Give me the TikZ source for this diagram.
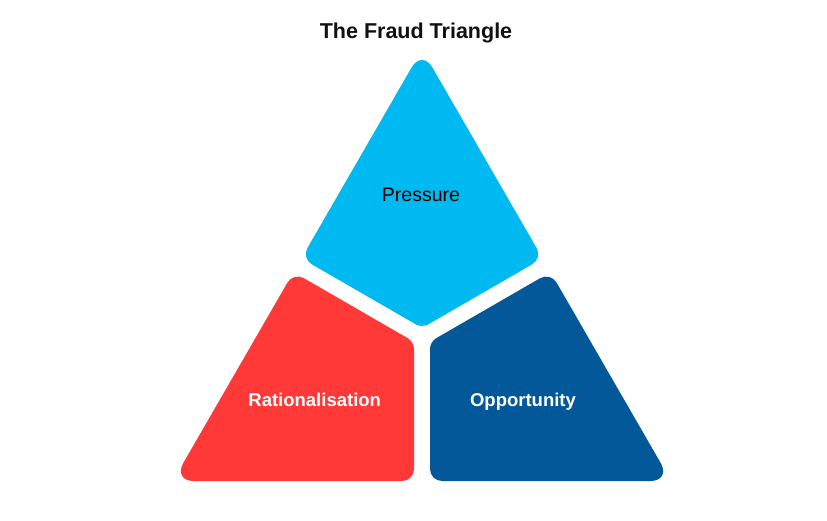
\documentclass[tikz,border=0pt]{standalone}
\usepackage{fontspec}
\setmainfont{Liberation Sans}
\usetikzlibrary{calc}
\definecolor{pressurecol}{RGB}{0,185,241}
\definecolor{rationcol}{RGB}{255,56,56}
\definecolor{opportcol}{RGB}{3,88,153}
\definecolor{titlecol}{RGB}{17,17,17}
\tikzset{
  titletext/.style={anchor=base, text=titlecol, font=\fontsize{21.5}{25}\selectfont\bfseries, inner sep=0pt},
  darklabel/.style={anchor=base, text=black, font=\fontsize{19.5}{23}\selectfont, inner sep=0pt},
  lightlabel/.style={anchor=base, text=white, font=\fontsize{18.5}{22}\selectfont\bfseries, inner sep=0pt},
  rA/.style={rounded corners=20.78pt},
  rB/.style={rounded corners=12pt},
  rC/.style={rounded corners=6.93pt}
}
\begin{document}
\begin{tikzpicture}[x=1pt,y=-1pt]
\useasboundingbox (0,0) rectangle (827,521);
\fill[white] (0,0) rectangle (827,521);
% top piece
\coordinate (A) at (422,49.5);
\coordinate (MRt) at (542.55,258.32);
\coordinate (Ct) at (422,327.93);
\coordinate (MLt) at (301.45,258.32);
% left piece
\coordinate (BL) at (172.9,481);
\coordinate (MLr) at (293.45,272.18);
\coordinate (Cl) at (414,341.79);
\coordinate (MBl) at (414,481);
% right piece
\coordinate (BR) at (671.1,481);
\coordinate (MRr) at (550.55,272.18);
\coordinate (Cr) at (430,341.79);
\coordinate (MBr) at (430,481);

\fill[pressurecol] ($(A)!0.5!(MRt)$) [rB] -- (MRt) [rC] -- (Ct) [rB] -- (MLt) [rA] -- (A) [sharp corners] -- ($(A)!0.5!(MRt)$);
\fill[rationcol] ($(BL)!0.5!(MBl)$) [rB] -- (MBl) [rC] -- (Cl) [rB] -- (MLr) [rA] -- (BL) [sharp corners] -- ($(BL)!0.5!(MBl)$);
\fill[opportcol] ($(BR)!0.5!(MBr)$) [rA] -- (BR) [rB] -- (MRr) [rC] -- (Cr) [rB] -- (MBr) [sharp corners] -- ($(BR)!0.5!(MBr)$);

\node[titletext] (title) at (416,38.5) {The Fraud Triangle};
\node[darklabel] (pressure) at (421,202) {Pressure};
\node[lightlabel] (ration) at (314.7,406.7) {Rationalisation};
\node[lightlabel] (opport) at (523,406.7) {Opportunity};
\end{tikzpicture}
\end{document}
